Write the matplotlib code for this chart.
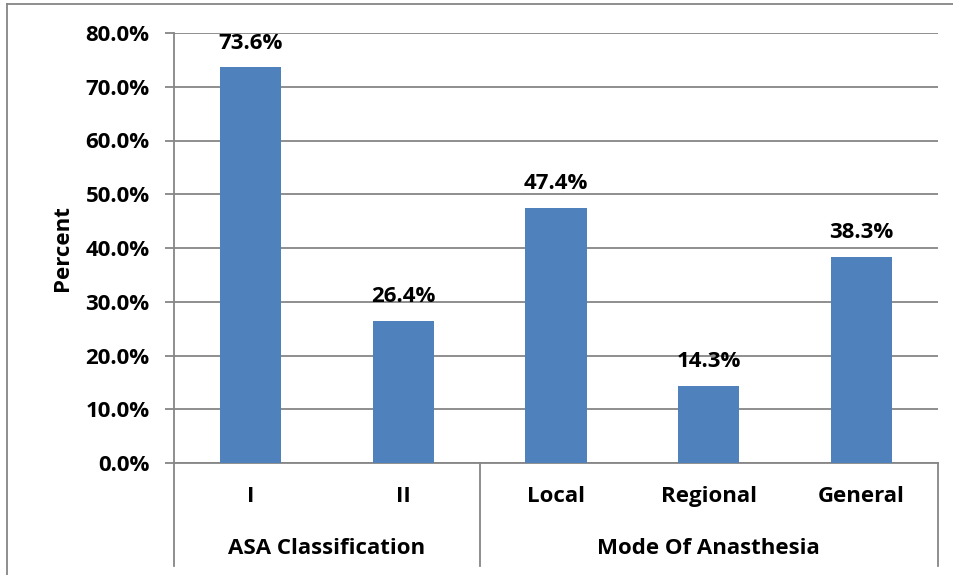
import matplotlib.pyplot as plt
from matplotlib.lines import Line2D
from matplotlib.ticker import FuncFormatter
import matplotlib.transforms as mtransforms

plt.rcParams['font.family'] = ['Open Sans', 'DejaVu Sans']
plt.rcParams['font.weight'] = 'bold'

categories = ['I', 'II', 'Local', 'Regional', 'General']
percents = [73.6, 26.4, 47.4, 14.3, 38.3]
groups = ['ASA Classification', 'Mode Of Anasthesia']
group_spans = [(-0.5, 1.5), (1.5, 4.5)]

FS = 16
W, H = 954, 575
fig = plt.figure(figsize=(W / 100, H / 100), dpi=100)
ax = fig.add_axes([174 / W, 1 - 463 / H, (938 - 174) / W, (463 - 33) / H])

x = range(len(categories))
vals = [p / 100 for p in percents]
ax.bar(x, vals, width=0.4, color='#4F81BD', zorder=3)

for xi, v in zip(x, vals):
    ax.annotate(f'{v * 100:.1f}%', (xi, v), xytext=(0, 10), textcoords='offset points',
                ha='center', va='bottom', fontsize=FS, fontweight='bold')

ax.set_xlim(-0.5, 4.5)
ax.set_ylim(0, 0.8)
ax.set_yticks([i / 10 for i in range(9)])
ax.yaxis.set_major_formatter(FuncFormatter(lambda v, _: f'{v * 100:.1f}%'))
ax.tick_params(axis='y', direction='out', length=6.5, width=1.3, color='#868686',
               labelsize=FS, pad=11)
ax.tick_params(axis='x', length=0, labelbottom=False)
ax.grid(axis='y', color='#868686', linewidth=1.3, zorder=0)
for s in ['top', 'right']:
    ax.spines[s].set_visible(False)
for s in ['left', 'bottom']:
    ax.spines[s].set_color('#868686')
    ax.spines[s].set_linewidth(1.3)
ax.set_ylabel('Percent', fontsize=FS, fontweight='bold', labelpad=9)

# two-level category axis under the plot
trans = mtransforms.blended_transform_factory(ax.transData, ax.transAxes)
for xi, name in zip(x, categories):
    ax.text(xi, -0.079, name, transform=trans, ha='center', va='center',
            fontsize=FS, fontweight='bold')
for (a, b), name in zip(group_spans, groups):
    ax.text((a + b) / 2, -0.198, name, transform=trans, ha='center', va='center',
            fontsize=FS, fontweight='bold')
depth = (566 - 463) / (463 - 33)
for edge in [-0.5, 1.5, 4.5]:
    ax.plot([edge, edge], [0, -depth], transform=trans, color='#868686',
            linewidth=1.3, clip_on=False)

# chart frame (left and top edges)
fig.add_artist(Line2D([7.5 / W, 7.5 / W], [0, 1 - 3.5 / H], transform=fig.transFigure,
                      color='#868686', linewidth=1.3))
fig.add_artist(Line2D([7.5 / W, 1], [1 - 3.5 / H, 1 - 3.5 / H], transform=fig.transFigure,
                      color='#868686', linewidth=1.3))

fig.savefig('out.png', dpi=100)
